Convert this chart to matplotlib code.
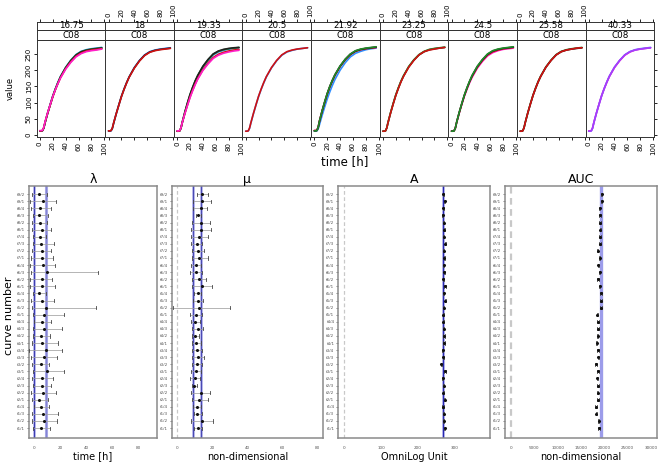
import matplotlib
matplotlib.use('Agg')
import matplotlib.pyplot as plt

plt.rcParams['font.family'] = ['DejaVu Sans']

# ---------------- data: top panels (kinetic curves) ----------------
times = [0, 2, 4, 6, 8, 12, 16, 20, 24, 28, 32, 40, 48, 56, 64, 72, 80, 88, 96]
panel_labels = ['16.75', '18', '19.33', '20.5', '21.92', '23.25', '24.5', '25.58', '40.33']
well = 'C08'

col_blue = '#2f8fff'
col_green = '#1f8a2a'
col_black = '#202020'
col_red = '#d01010'
col_mag = '#ff1fc8'
col_purple = '#a040ff'

p1_blue = [12, 12, 13, 21, 38, 68, 95, 121, 143, 163, 181, 209, 231, 248, 258, 263, 266, 268, 270]
p1_green = [13, 13, 14, 22, 39, 68, 94, 120, 142, 162, 180, 208, 230, 247, 257, 262, 265, 267, 269]
p1_black = [13, 13, 14, 22, 38, 67, 93, 119, 141, 161, 179, 207, 229, 246, 256, 261, 264, 266, 268]
p1_red = [13, 13, 14, 23, 40, 68, 93, 118, 140, 159, 177, 205, 226, 243, 253, 259, 262, 264, 266]
p1_mag = [14, 14, 15, 24, 41, 69, 94, 119, 140, 159, 176, 203, 224, 241, 251, 257, 260, 262, 265]

p2_black = [13, 13, 14, 21, 37, 66, 93, 119, 141, 161, 179, 207, 229, 246, 256, 261, 264, 266, 268]
p2_blue = [12, 12, 13, 21, 37, 66, 93, 119, 141, 161, 179, 208, 230, 247, 257, 262, 265, 267, 269]
p2_red = [13, 13, 14, 22, 38, 66, 92, 118, 140, 160, 178, 206, 228, 245, 255, 260, 263, 265, 267]

p3_black = [12, 12, 13, 22, 40, 71, 99, 125, 147, 167, 184, 212, 233, 250, 259, 264, 267, 269, 270]
p3_green = [12, 12, 13, 22, 39, 70, 98, 124, 146, 166, 183, 211, 232, 249, 258, 263, 266, 268, 270]
p3_blue = [12, 12, 13, 21, 38, 68, 96, 122, 144, 164, 181, 209, 230, 247, 256, 261, 265, 267, 269]
p3_red = [12, 12, 13, 22, 38, 66, 92, 117, 138, 157, 174, 201, 222, 239, 249, 255, 259, 262, 264]
p3_mag = [13, 13, 14, 23, 39, 66, 91, 115, 136, 155, 172, 199, 219, 236, 246, 252, 256, 259, 261]

p4_blue = [12, 12, 13, 21, 37, 66, 93, 119, 141, 161, 179, 207, 229, 246, 256, 261, 265, 267, 269]
p4_red = [12, 12, 13, 22, 38, 67, 94, 120, 142, 162, 180, 208, 230, 247, 257, 262, 265, 267, 269]

p5_green = [13, 13, 14, 24, 43, 74, 102, 128, 150, 169, 186, 213, 234, 250, 260, 265, 268, 270, 272]
p5_black = [13, 13, 14, 23, 42, 73, 101, 127, 149, 168, 185, 212, 233, 249, 259, 264, 267, 269, 271]
p5_blue = [12, 12, 13, 19, 32, 60, 86, 111, 133, 153, 171, 200, 223, 241, 252, 258, 263, 266, 268]
p5_red = [14, 14, 15, 24, 43, 73, 100, 126, 148, 167, 184, 211, 232, 248, 258, 263, 266, 268, 270]
p5_mag = [14, 14, 15, 25, 44, 74, 101, 127, 149, 168, 185, 212, 233, 249, 259, 264, 267, 269, 270]

p6_green = [12, 12, 13, 22, 40, 70, 98, 124, 146, 166, 183, 211, 232, 248, 258, 264, 267, 269, 271]
p6_black = [12, 12, 13, 22, 39, 69, 97, 123, 145, 165, 182, 210, 231, 247, 257, 263, 266, 268, 270]
p6_red = [12, 12, 13, 22, 39, 69, 96, 122, 144, 164, 181, 209, 230, 247, 257, 262, 265, 268, 270]

p7_green = [12, 12, 13, 22, 40, 70, 98, 124, 146, 166, 184, 212, 233, 250, 260, 265, 268, 270, 272]
p7_black = [12, 12, 13, 22, 40, 70, 97, 123, 145, 165, 183, 211, 232, 249, 259, 264, 267, 269, 271]
p7_mag = [13, 13, 14, 22, 39, 68, 95, 120, 141, 161, 178, 206, 227, 244, 254, 260, 264, 266, 268]
p7_red = [12, 12, 13, 22, 39, 69, 96, 122, 144, 164, 181, 209, 230, 247, 257, 262, 266, 268, 270]

p8_green = [12, 12, 13, 22, 39, 69, 97, 123, 145, 165, 182, 210, 231, 248, 258, 263, 266, 268, 270]
p8_black = [12, 12, 13, 22, 39, 69, 96, 122, 144, 164, 181, 209, 230, 247, 257, 262, 265, 267, 269]
p8_red = [12, 12, 13, 22, 39, 69, 96, 122, 144, 164, 181, 209, 230, 247, 257, 262, 265, 268, 269]

p9_blue = [12, 12, 13, 21, 38, 68, 95, 121, 143, 163, 181, 209, 230, 247, 257, 263, 266, 268, 270]
p9_mag = [13, 13, 14, 22, 39, 68, 95, 121, 143, 162, 180, 208, 229, 246, 256, 262, 265, 267, 269]
p9_purple = [12, 12, 13, 22, 39, 68, 95, 121, 143, 163, 181, 209, 230, 247, 257, 262, 265, 267, 269]

panel_curves = [
    [(col_blue, p1_blue), (col_green, p1_green), (col_black, p1_black), (col_red, p1_red), (col_mag, p1_mag)],
    [(col_blue, p2_blue), (col_black, p2_black), (col_red, p2_red)],
    [(col_blue, p3_blue), (col_green, p3_green), (col_black, p3_black), (col_red, p3_red), (col_mag, p3_mag)],
    [(col_blue, p4_blue), (col_red, p4_red)],
    [(col_blue, p5_blue), (col_mag, p5_mag), (col_red, p5_red), (col_black, p5_black), (col_green, p5_green)],
    [(col_black, p6_black), (col_green, p6_green), (col_red, p6_red)],
    [(col_mag, p7_mag), (col_red, p7_red), (col_black, p7_black), (col_green, p7_green)],
    [(col_green, p8_green), (col_black, p8_black), (col_red, p8_red)],
    [(col_blue, p9_blue), (col_mag, p9_mag), (col_purple, p9_purple)],
]

# ---------------- data: bottom panels (parameter estimates) ----------------
row_labels = ['t9/2', 't9/1', 't8/4', 't8/3', 't8/2', 't8/1', 't7/4', 't7/3', 't7/2', 't7/1',
              't6/4', 't6/3', 't6/2', 't6/1', 't5/4', 't5/3', 't5/2', 't5/1', 't4/4', 't4/3',
              't4/2', 't4/1', 't3/4', 't3/3', 't3/2', 't3/1', 't2/4', 't2/3', 't2/2', 't2/1',
              't1/4', 't1/3', 't1/2', 't1/1']

lam_est = [4.1, 7.2, 4.6, 4.0, 4.6, 5.9, 4.6, 5.4, 5.9, 6.4, 6.7, 9.7, 5.9, 5.9, 4.1, 5.9, 9.2, 8.0,
           6.4, 7.7, 5.4, 6.4, 9.0, 7.7, 5.1, 9.7, 6.4, 6.4, 6.7, 4.1, 5.4, 7.2, 8.0, 5.1]
lam_lo = [-1.3, -3.0, -2.3, -1.0, -1.5, -1.8, -0.5, -1.0, -1.5, -2.3, -3.0, -2.5, -3.0, -3.0, -0.5, -2.5, -1.5, -0.5,
          0.3, -1.0, -1.0, -1.3, -3.6, -2.5, -1.3, -0.5, -1.8, -0.5, -2.5, -1.8, 0.3, -1.8, -1.3, -1.0]
lam_hi = [9.7, 17.0, 13.0, 11.0, 10.3, 12.8, 9.2, 15.4, 12.8, 14.9, 16.0, 49.0, 13.6, 16.0, 9.2, 15.6, 47.4, 23.0,
          12.8, 21.8, 12.3, 18.2, 21.3, 17.9, 11.8, 23.0, 14.9, 13.0, 16.7, 11.0, 11.8, 18.7, 17.9, 12.3]

mu_est = [13.9, 13.9, 13.3, 11.8, 13.3, 13.3, 12.6, 11.0, 11.6, 12.6, 10.5, 10.7, 12.4, 13.9, 11.6, 12.0, 12.4, 10.7,
          10.3, 11.6, 10.1, 10.7, 11.0, 11.6, 11.0, 10.7, 10.1, 9.5, 13.3, 12.6, 11.0, 11.4, 13.9, 11.6]
mu_lo = [11.4, 9.1, 9.1, 10.5, 8.6, 7.6, 7.8, 7.8, 8.2, 8.2, 7.8, 7.2, 8.6, 8.6, 9.7, 9.1, -2.3, 7.2,
         7.6, 8.2, 8.2, 8.2, 8.2, 8.2, 8.2, 7.6, 7.2, 8.2, 7.8, 8.6, 8.8, 9.5, 7.8, 9.5]
mu_hi = [17.3, 19.0, 16.8, 13.5, 18.7, 19.0, 17.3, 14.3, 15.2, 17.3, 13.3, 14.3, 16.2, 19.6, 13.5, 14.9, 30.0, 13.9,
         13.0, 14.9, 12.4, 13.3, 13.9, 15.2, 13.9, 13.5, 13.0, 11.0, 18.7, 17.3, 13.3, 13.9, 20.6, 14.3]

A_est = [268.5, 272.1, 268.5, 266.7, 269.4, 271.2, 269.4, 273.9, 269.4, 271.2, 269.4, 271.2, 268.5, 273.0, 269.4,
         273.9, 269.4, 268.5, 268.5, 269.4, 270.3, 270.3, 266.7, 268.5, 263.1, 273.0, 266.7, 269.4, 268.5, 272.1,
         267.6, 269.4, 269.4, 272.1]
A_lo = [266.5, 270.1, 266.5, 264.7, 267.4, 269.2, 267.4, 271.9, 267.4, 269.2, 267.4, 269.2, 266.5, 271.0, 267.4,
        271.9, 267.4, 266.5, 266.5, 267.4, 268.3, 268.3, 264.7, 266.5, 261.1, 271.0, 264.7, 267.4, 266.5, 270.1,
        265.6, 267.4, 267.4, 270.1]
A_hi = [270.5, 274.1, 270.5, 268.7, 271.4, 273.2, 271.4, 275.9, 271.4, 273.2, 271.4, 273.2, 270.5, 275.0, 271.4,
        275.9, 271.4, 270.5, 270.5, 271.4, 272.3, 272.3, 268.7, 270.5, 265.1, 275.0, 268.7, 271.4, 270.5, 274.1,
        269.6, 271.4, 271.4, 274.1]

auc_est = [19430, 19430, 19000, 19070, 19070, 19140, 19070, 19070, 18570, 19000, 18710, 19000, 18640, 19000,
           19290, 19290, 19290, 18500, 18640, 18640, 18570, 18360, 18640, 18710, 18210, 18640, 18500, 18640,
           18570, 18640, 18210, 18290, 18790, 18860]
auc_lo = [19280, 19280, 18850, 18920, 18920, 18990, 18920, 18920, 18420, 18850, 18560, 18850, 18490, 18850,
          19140, 19140, 19140, 18350, 18490, 18490, 18420, 18210, 18490, 18560, 18060, 18490, 18350, 18490,
          18420, 18490, 18060, 18140, 18640, 18710]
auc_hi = [19580, 19580, 19150, 19220, 19220, 19290, 19220, 19220, 18720, 19150, 18860, 19150, 18790, 19150,
          19440, 19440, 19440, 18650, 18790, 18790, 18720, 18510, 18790, 18860, 18360, 18790, 18650, 18790,
          18720, 18790, 18360, 18440, 18940, 19010]

lam_group = [0.0, 9.0]
mu_group = [9.1, 13.7]
A_group = [268.5]
auc_group = [19290]

# ---------------- figure ----------------
W, H = 661, 465
fig = plt.figure(figsize=(W / 100, H / 100), dpi=100)


def rect(x0, y0, x1, y1):
    return [x0 / W, 1 - y1 / H, (x1 - x0) / W, (y1 - y0) / H]


px0, pw = 36.7, 68.6
ptop, pbot = 40.3, 136.7
s1top = 30.3
s2top = 21.7
xl = (-5.0, 101.5)
xt = [0, 20, 40, 60, 80, 100]
for i, lab in enumerate(panel_labels):
    x0 = px0 + i * pw
    x1 = x0 + pw
    ax = fig.add_axes(rect(x0, ptop, x1, pbot))
    for col, vals in panel_curves[i]:
        ax.plot(times, vals, color=col, lw=1.2, solid_capstyle='round')
    ax.set_xlim(*xl)
    ax.set_ylim(-5, 292)
    ax.set_xticks(xt)
    ax.set_xticklabels([str(t) for t in xt])
    ax.tick_params(axis='x', direction='out', length=2.5, width=0.6, labelsize=5,
                   labelrotation=90, pad=1, bottom=True, labelbottom=(i % 2 == 0))
    ax.set_yticks([0, 50, 100, 150, 200, 250])
    if i == 0:
        ax.tick_params(axis='y', direction='out', length=2.5, width=0.6, labelsize=5,
                       labelrotation=90, pad=1, left=True, labelleft=True)
        for t in ax.get_yticklabels():
            t.set_va('center')
    elif i == len(panel_labels) - 1:
        ax.tick_params(axis='y', direction='out', length=2.5, width=0.6, left=False,
                       labelleft=False, right=True, labelright=False)
    else:
        ax.tick_params(axis='y', left=False, labelleft=False)
    for s in ax.spines.values():
        s.set_linewidth(0.7)
        s.set_color('#333333')

    # strips
    sa = fig.add_axes(rect(x0, s1top, x1, ptop))
    sa.set_xticks([]); sa.set_yticks([])
    sa.text(0.5, 0.5, well, ha='center', va='center', fontsize=6.3, transform=sa.transAxes)
    sb = fig.add_axes(rect(x0, s2top, x1, s1top))
    sb.set_yticks([])
    sb.set_xlim(*xl)
    sb.set_xticks(xt)
    sb.set_xticklabels([str(t) for t in xt])
    sb.tick_params(axis='x', direction='out', length=2.5, width=0.6, labelsize=5, labelrotation=90,
                   pad=1, bottom=False, labelbottom=False, top=True, labeltop=(i % 2 == 1))
    sb.text(0.5, 0.5, lab, ha='center', va='center', fontsize=6.3, transform=sb.transAxes)
    for a in (sa, sb):
        for s in a.spines.values():
            s.set_linewidth(0.7)
            s.set_color('#333333')

fig.text(10 / W, 1 - 88 / H, 'value', rotation=90, ha='center', va='center', fontsize=6)
fig.text(345 / W, 1 - 162 / H, 'time [h]', ha='center', va='center', fontsize=8.5)

# ---------------- bottom panels ----------------
n = len(row_labels)
ypos = [n - 1 - k for k in range(n)]
btop, bbot = 185.7, 438.0
panels = [
    ('λ', 'time [h]', (29.0, 157.0), (-3.8, 94.6), [0, 20, 40, 60, 80], lam_est, lam_lo, lam_hi, lam_group, 'lam'),
    ('μ', 'non-dimensional', (171.7, 323.0), (-3.2, 83.3), [0, 20, 40, 60, 80], mu_est, mu_lo, mu_hi, mu_group, 'mu'),
    ('A', 'OmniLog Unit', (338.3, 490.0), (-15.4, 394.6), [0, 100, 200, 300], A_est, A_lo, A_hi, A_group, 'A'),
    ('AUC', 'non-dimensional', (505.0, 656.7), (-1286, 31221), [0, 5000, 10000, 15000, 20000, 25000, 30000],
     auc_est, auc_lo, auc_hi, auc_group, 'auc'),
]

for title, xlabel, (bx0, bx1), xlim, ticks, est, lo, hi, grp, key in panels:
    ax = fig.add_axes(rect(bx0, btop, bx1, bbot))
    ax.set_xlim(*xlim)
    ax.set_ylim(-1.4, n - 1 + 1.2)
    if key != 'lam':
        ax.axvline(0, color='#c8c8c8', lw=0.9 if key != 'auc' else 1.6, ls=(0, (3, 2)), zorder=1)
    if key == 'lam':
        ax.axvline(grp[0], color='#b0b0ea', lw=2.0, zorder=2)
        ax.axvline(grp[0], color='#3a3ab0', lw=0.7, zorder=2)
        ax.axvline(grp[1], color='#a8a8e6', lw=2.2, zorder=2)
        ax.axvline(grp[1], color='#8484d4', lw=0.8, zorder=2)
    elif key == 'mu':
        for g in grp:
            ax.axvline(g, color='#b8b8ec', lw=2.0, zorder=2)
            ax.axvline(g, color='#4a4ab4', lw=0.8, zorder=2)
    elif key == 'A':
        for g in grp:
            ax.axvline(g, color='#b0b0ea', lw=2.0, zorder=2)
            ax.axvline(g, color='#2828b0', lw=0.8, zorder=2)
    else:
        for g in grp:
            ax.axvline(g, color='#9c9cea', lw=2.4, zorder=2)
    for y, e, l, h in zip(ypos, est, lo, hi):
        ax.plot([l, h], [y, y], color='#a0a0a0', lw=0.55, zorder=3)
        ax.plot([l, l], [y - 0.22, y + 0.22], color='#444444', lw=0.6, zorder=4)
        ax.plot([h, h], [y - 0.22, y + 0.22], color='#444444', lw=0.6, zorder=4)
        ax.plot([e], [y], marker='o', ms=1.2, color='#111111', mec='#111111', zorder=5, ls='none')
    ax.set_yticks(ypos)
    ax.set_yticklabels(row_labels)
    ax.set_xticks(ticks)
    ax.set_xticklabels([str(t) for t in ticks])
    ax.tick_params(axis='y', direction='out', length=1.8, width=0.5, labelsize=3, pad=1,
                   colors='#555555')
    ax.tick_params(axis='x', direction='out', length=0, width=0.5, labelsize=3, pad=6,
                   colors='#555555')
    for s in ax.spines.values():
        s.set_linewidth(1.1)
        s.set_color('#8a8a8a')
    cx = (bx0 + bx1) / 2
    fig.text(cx / W, 1 - 179.5 / H, title, ha='center', va='center', fontsize=9)
    fig.text(cx / W, 1 - 456.5 / H, xlabel, ha='center', va='center', fontsize=7)

fig.text(9 / W, 1 - 316 / H, 'curve number', rotation=90, ha='center', va='center', fontsize=8)

fig.savefig('out.png', dpi=100)
